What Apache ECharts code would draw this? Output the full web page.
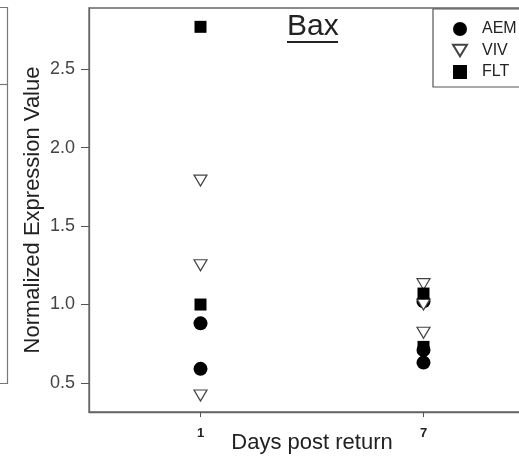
<!DOCTYPE html>
<html>
<head>
<meta charset="utf-8">
<script src="https://cdn.jsdelivr.net/npm/echarts@6/dist/echarts.min.js"></script>
<style>
html,body{margin:0;padding:0;background:#fff;}
#main{width:519px;height:458px;}
</style>
</head>
<body>
<div id="main"></div>
<script>
// values
var xTicks = [1, 7]
var yTicks = [0.5, 1.0, 1.5, 2.0, 2.5]
var aemDay1 = [0.88, 0.59]
var aemDay7 = [1.02, 0.71, 0.63]
var vivDay1 = [1.79, 1.25, 0.42]
var vivDay7 = [1.13, 1.0, 0.82]
var fltDay1 = [2.77, 1.0]
var fltDay7 = [1.07, 0.73]

function pairs(day, vals){
	var out = []
	for (var i = 0; i < vals.length; i++) out.push([day, vals[i]])
	return out
}

var font = 'Liberation Sans, Arial, sans-serif'
var triPath = 'path://M0,0 L12,0 L6,10 Z'

var myChart = echarts.init(document.getElementById('main'))
var option = {
	animation: false,
	backgroundColor: '#fff',
	grid: {left: 89, top: 8, width: 446, bottom: 46, show: true, borderColor: '#666', borderWidth: 1.3,
		outerBoundsMode: 'none', containLabel: false},
	xAxis: {
		type: 'value', min: -2, max: 10,
		name: 'Days post return', nameLocation: 'middle', nameGap: 20, nameMoveOverlap: false,
		nameTextStyle: {fontSize: 22, color: '#222', fontFamily: font},
		splitLine: {show: false},
		axisLine: {onZero: false, lineStyle: {color: '#666', width: 1.3}},
		axisTick: {customValues: xTicks, length: 5, lineStyle: {color: '#555'}},
		axisLabel: {customValues: xTicks, margin: 15, fontSize: 13, fontWeight: 'bold', color: '#222', fontFamily: font}
	},
	yAxis: {
		type: 'value', min: 0.315, max: 2.89,
		name: 'Normalized Expression Value', nameLocation: 'middle', nameGap: 45, nameMoveOverlap: false,
		nameTextStyle: {fontSize: 22, color: '#222', fontFamily: font},
		splitLine: {show: false},
		axisLine: {show: true, onZero: false, lineStyle: {color: '#666', width: 1.3}},
		axisTick: {customValues: yTicks, length: 8, lineStyle: {color: '#555'}},
		axisLabel: {customValues: yTicks, margin: 14, fontSize: 18, color: '#444', fontFamily: font,
			formatter: function(v){ return v.toFixed(1) }}
	},
	legend: {
		orient: 'vertical', left: 433, top: 9,
		padding: [12, 60, 7, 19], itemGap: 5.5, itemWidth: 14, itemHeight: 14,
		borderColor: '#555', borderWidth: 1.2, backgroundColor: '#fff',
		textStyle: {fontSize: 16, color: '#222', fontFamily: font, padding: [0, 0, 0, 10]},
		data: ['AEM', 'VIV', 'FLT']
	},
	series: [
		{name: 'AEM', type: 'scatter', symbol: 'circle', symbolSize: 14,
			itemStyle: {color: '#000', opacity: 1},
			data: pairs(1, aemDay1).concat(pairs(7, aemDay7))},
		{name: 'VIV', type: 'scatter', symbol: triPath, symbolSize: [13, 11],
			itemStyle: {color: '#fff', borderColor: '#444', borderWidth: 1.2, opacity: 1},
			data: pairs(1, vivDay1).concat(pairs(7, vivDay7))},
		{name: 'FLT', type: 'scatter', symbol: 'rect', symbolSize: 12,
			itemStyle: {color: '#000', opacity: 1},
			data: pairs(1, fltDay1).concat(pairs(7, fltDay7))}
	],
	graphic: [
		{type: 'text', left: 287, top: 12, style: {text: 'Bax', fontSize: 30, fill: '#222', font: '30px ' + font}},
		{type: 'line', shape: {x1: 287, y1: 42, x2: 338, y2: 42}, style: {stroke: '#222', lineWidth: 2}},
		// edge of the neighbouring panel on the left
		{type: 'polyline', shape: {points: [[0, 7.5], [7.5, 7.5], [7.5, 383.5], [0, 383.5]]}, style: {stroke: '#777', lineWidth: 1.2, fill: null}},
		{type: 'line', shape: {x1: 0, y1: 84.5, x2: 7.5, y2: 84.5}, style: {stroke: '#777', lineWidth: 1.2}}
	]
}
myChart.setOption(option)
</script>
</body>
</html>
